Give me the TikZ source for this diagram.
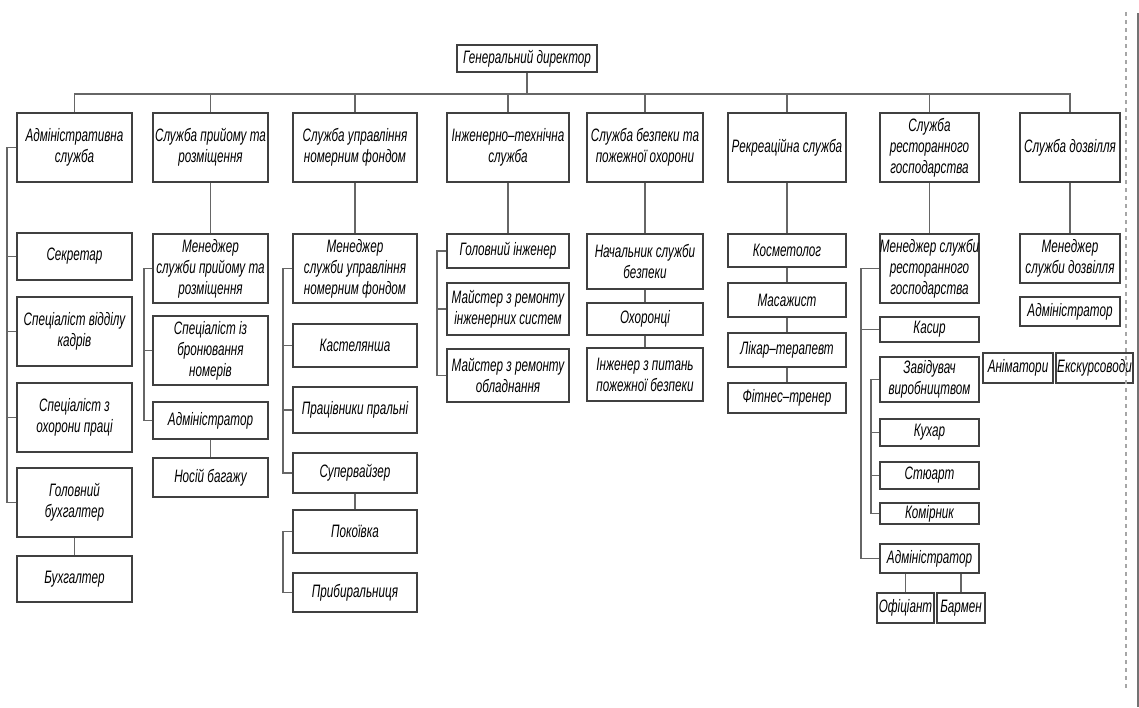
\documentclass[tikz,border=0pt]{standalone}
\usepackage{fontspec}
\newfontfamily\orgfont{Liberation Sans}[FakeStretch=0.65]
\usetikzlibrary{positioning}

\begin{document}
\begin{tikzpicture}[
x=0.75pt, y=-0.75pt,
box/.style={draw=black!75, line width=1pt, inner sep=0pt, align=center, font=\orgfont\itshape\fontsize{13.5}{15.8}\selectfont},
cell/.style args={#1/#2/#3/#4}{minimum width={(#3-#1)*0.75pt}, minimum height={(#4-#2)*0.75pt}, at={({(#1+#3)/2},{(#2+#4)/2})}},
link/.style={draw=black!60, line width=0.9pt},
]
    \useasboundingbox (0,0) rectangle (1139,707);

    % top and departments
    \node[box, cell={457/45/597/72}]     (gendir)   {Генеральний директор};
    \node[box, cell={17/113/132/182}]    (adm)      {Адміністративна\\служба};
    \node[box, cell={153/113/268/182}]   (pryom)    {Служба прийому та\\розміщення};
    \node[box, cell={293/113/417/182}]   (upr)      {Служба управління\\номерним фондом};
    \node[box, cell={447/113/569/182}]   (inzh)     {Інженерно–технічна\\служба};
    \node[box, cell={587/113/703/182}]   (bezp)     {Служба безпеки та\\пожежної охорони};
    \node[box, cell={728/113/846/182}]   (rekr)     {Рекреаційна служба};
    \node[box, cell={880/113/979/182}]   (rest)     {Служба\\ресторанного\\господарства};
    \node[box, cell={1020/113/1120/182}] (dozv)     {Служба дозвілля};

    % column 1
    \node[box, cell={17/233/132/280}]    (sekr)     {Секретар};
    \node[box, cell={17/297/132/366}]    (kadry)    {Спеціаліст відділу\\кадрів};
    \node[box, cell={17/383/132/452}]    (okhor)    {Спеціаліст з\\охорони праці};
    \node[box, cell={17/468/132/537}]    (golbukh)  {Головний\\бухгалтер};
    \node[box, cell={17/556/132/602}]    (bukh)     {Бухгалтер};

    % column 2
    \node[box, cell={153/234/268/303}]   (men2)     {Менеджер\\служби прийому та\\розміщення};
    \node[box, cell={153/316/268/385}]   (bron)     {Спеціаліст із\\бронювання\\номерів};
    \node[box, cell={153/402/268/439}]   (adm2)     {Адміністратор};
    \node[box, cell={153/458/268/497}]   (nosii)    {Носій багажу};

    % column 3
    \node[box, cell={293/234/417/303}]   (men3)     {Менеджер\\служби управління\\номерним фондом};
    \node[box, cell={293/324/417/367}]   (kast)     {Кастелянша};
    \node[box, cell={293/387/417/433}]   (pral)     {Працівники пральні};
    \node[box, cell={293/453/417/493}]   (superv)   {Супервайзер};
    \node[box, cell={293/510/417/553}]   (pokoi)    {Покоївка};
    \node[box, cell={293/573/417/612}]   (prybyr)   {Прибиральниця};

    % column 4
    \node[box, cell={447/234/569/268}]   (golinzh)  {Головний інженер};
    \node[box, cell={447/283/569/335}]   (mremsys)  {Майстер з ремонту\\інженерних систем};
    \node[box, cell={447/349/569/402}]   (mremobl)  {Майстер з ремонту\\обладнання};

    % column 5
    \node[box, cell={587/234/703/289}]   (nach)     {Начальник служби\\безпеки};
    \node[box, cell={587/303/703/335}]   (okhoron)  {Охоронці};
    \node[box, cell={587/348/703/401}]   (inzhpozh) {Інженер з питань\\пожежної безпеки};

    % column 6
    \node[box, cell={728/234/846/267}]   (kosm)     {Косметолог};
    \node[box, cell={728/283/846/317}]   (masazh)   {Масажист};
    \node[box, cell={728/333/846/367}]   (likar)    {Лікар–терапевт};
    \node[box, cell={728/383/846/413}]   (fitnes)   {Фітнес–тренер};

    % column 7
    \node[box, cell={880/234/979/303}]   (men7)     {Менеджер служби\\ресторанного\\господарства};
    \node[box, cell={880/317/979/342}]   (kasyr)    {Касир};
    \node[box, cell={880/357/979/402}]   (zavid)    {Завідувач\\виробництвом};
    \node[box, cell={880/419/979/446}]   (kukhar)   {Кухар};
    \node[box, cell={880/462/979/489}]   (stuart)   {Стюарт};
    \node[box, cell={880/503/979/524}]   (komirn)   {Комірник};
    \node[box, cell={880/544/979/573}]   (adm7)     {Адміністратор};
    \node[box, cell={877/593/934/623}]   (ofits)    {Офіціант};
    \node[box, cell={937/593/985/623}]   (barmen)   {Бармен};

    % column 8
    \node[box, cell={1020/234/1120/283}] (men8)     {Менеджер\\служби дозвілля};
    \node[box, cell={1020/297/1120/326}] (adm8)     {Адміністратор};
    \node[box, cell={983/353/1053/383}]  (animat)   {Аніматори};
    \node[box, cell={1056/353/1133/383}] (ekskurs)  {Екскурсоводи};

    % bus
    \coordinate (bus) at (527,94);
    \draw[link] (gendir.south) -- (gendir.south |- bus);
    \draw[link] (adm.north) -- (adm.north |- bus) -| (dozv.north);
    \foreach \n in {pryom, upr, inzh, bezp, rekr, rest}
        \draw[link] (\n.north) -- (\n.north |- bus);

    % column 1
    \coordinate (sp1) at (7,0);
    \draw[link] (adm.west) -| (sp1 |- golbukh.west) -- (golbukh.west);
    \foreach \n in {sekr, kadry, okhor}
        \draw[link] (sp1 |- \n.west) -- (\n.west);
    \draw[link] (golbukh) -- (bukh);

    % column 2
    \coordinate (sp2) at (144,0);
    \draw[link] (pryom) -- (men2);
    \draw[link] (men2.west) -| (sp2 |- adm2.west) -- (adm2.west);
    \draw[link] (sp2 |- bron.west) -- (bron.west);
    \draw[link] (adm2) -- (nosii);

    % column 3
    \coordinate (sp3) at (283,0);
    \draw[link] (upr) -- (men3);
    \draw[link] (men3.west) -| (sp3 |- superv.west) -- (superv.west);
    \foreach \n in {kast, pral}
        \draw[link] (sp3 |- \n.west) -- (\n.west);
    \draw[link] (superv) -- (pokoi);
    \draw[link] (pokoi.west) -| (sp3 |- prybyr.west) -- (prybyr.west);

    % column 4
    \coordinate (sp4) at (437,0);
    \draw[link] (inzh) -- (golinzh);
    \draw[link] (golinzh.west) -| (sp4 |- mremobl.west) -- (mremobl.west);
    \draw[link] (sp4 |- mremsys.west) -- (mremsys.west);

    % column 5 and 6
    \draw[link] (bezp) -- (nach) -- (okhoron) -- (inzhpozh);
    \draw[link] (rekr) -- (kosm) -- (masazh) -- (likar) -- (fitnes);

    % column 7
    \coordinate (sp7) at (861,0);
    \coordinate (sp7b) at (871,0);
    \draw[link] (rest) -- (men7);
    \draw[link] (men7.west) -| (sp7 |- adm7.west) -- (adm7.west);
    \draw[link] (sp7 |- kasyr.west) -- (kasyr.west);
    \draw[link] (zavid.west) -| (sp7b |- komirn.west) -- (komirn.west);
    \foreach \n in {kukhar, stuart}
        \draw[link] (sp7b |- \n.west) -- (\n.west);
    \draw[link] (ofits.north) -- (ofits.north |- adm7.south);
    \draw[link] (barmen.north) -- (barmen.north |- adm7.south);

    % column 8
    \draw[link] (dozv) -- (men8);

    % page edge
    \draw[black!35, dashed, line width=0.8pt] (1126,12) -- (1126,690);
    \draw[black!55, line width=0.8pt] (1138,13) -- (1138,707);
\end{tikzpicture}
\end{document}
